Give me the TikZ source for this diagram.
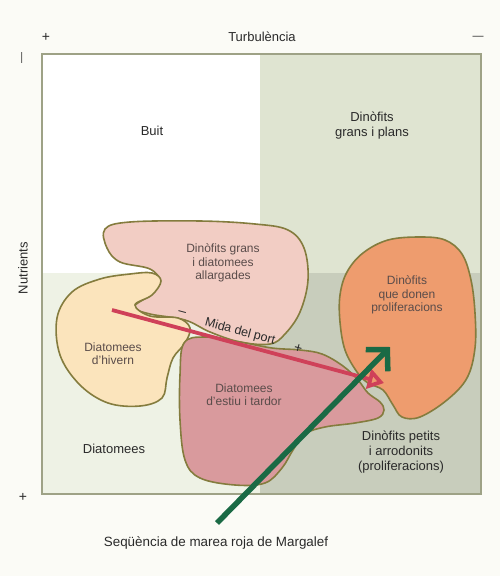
\documentclass[tikz,border=0pt]{standalone}
\usepackage{fontspec}
\setmainfont{Liberation Sans}
\usetikzlibrary{arrows.meta}
\definecolor{bgc}{HTML}{FBFBF6}
\definecolor{qtr}{HTML}{DFE4D1}
\definecolor{qbl}{HTML}{EEF2E5}
\definecolor{qbr}{HTML}{C8CDBC}
\definecolor{framec}{HTML}{9EA286}
\definecolor{blobline}{HTML}{847C3E}
\definecolor{lpink}{HTML}{F2CDC4}
\definecolor{yell}{HTML}{FBE4BC}
\definecolor{dpink}{HTML}{D99A9D}
\definecolor{orng}{HTML}{EE9C6E}
\definecolor{redarr}{HTML}{CF4159}
\definecolor{grnarr}{HTML}{1A6A45}
\definecolor{txt}{HTML}{2A2A2A}
\definecolor{txtb}{HTML}{5A4C4A}
\begin{document}
\begin{tikzpicture}[x=1pt,y=-1pt,
  blob/.style={draw=blobline, line width=1.6pt},
  lbl/.style={font=\fontsize{13}{15}\selectfont, text=txt, align=center, inner sep=0pt},
  blbl/.style={font=\fontsize{12}{13.4}\selectfont, text=txtb, align=center, inner sep=0pt},
  sgn/.style={font=\fontsize{14}{16}\selectfont, text=txt, inner sep=0pt}]
\useasboundingbox (0,0) rectangle (500,576);
\fill[bgc] (0,0) rectangle (500,576);
% quadrants
\fill[white] (42,54) rectangle (260,273);
\fill[qtr] (260,54) rectangle (481,273);
\fill[qbl] (42,273) rectangle (260,494);
\fill[qbr] (260,273) rectangle (481,494);
\draw[framec, line width=1.5pt] (42,54) rectangle (481,494);
% axis labels
\node[sgn] (tplus) at (46,37) {+};
\node[lbl] (turb) at (262,37) {Turbulència};
\node[sgn, font=\fontsize{11}{13}\selectfont] (tminus) at (478,38) {—};
\node[sgn, rotate=90, font=\fontsize{11}{13}\selectfont] (nminus) at (23,58) {—};
\node[lbl, rotate=90] (nutr) at (23,268) {Nutrients};
\node[sgn] (nplus) at (23,497) {+};
% quadrant labels
\node[lbl] (buit) at (152,131) {Buit};
\node[lbl] (dgp) at (372,126) {Dinòfits\\grans i plans};
\node[lbl] (diat) at (114,449) {Diatomees};
\node[lbl] (dpa) at (401,452) {Dinòfits petits\\i arrodonits\\(proliferacions)};
% blobs
\path[blob, fill=lpink] plot[smooth cycle, tension=0.6] coordinates {(105,229) (130,222) (200,221) (255,224) (288,230) (304,248) (308,280) (300,312) (285,334) (270,344) (240,342) (210,332) (185,320) (150,314) (134,307) (150,295) (160,282) (150,269) (120,262) (107,248)};
\path[blob, fill=yell] plot[smooth cycle, tension=0.6] coordinates {(57,318) (72,292) (100,279) (130,274) (152,273) (161,281) (152,295) (135,305) (150,316) (178,318) (190,328) (185,343) (173,358) (167,378) (162,398) (140,406) (108,403) (80,385) (60,355)};
\path[blob, fill=dpink] plot[smooth cycle, tension=0.6] coordinates {(184,343) (205,337) (240,342) (272,348) (300,350) (322,354) (343,366) (358,380) (368,393) (380,402) (384,410) (378,418) (355,423) (325,427) (305,434) (293,450) (282,468) (265,483) (235,485) (200,478) (185,460) (180,420) (180,375)};
\path[blob, fill=orng] plot[smooth cycle, tension=0.6] coordinates {(420,237) (445,240) (462,254) (471,280) (475,313) (475,348) (467,378) (447,400) (420,417) (402,417) (393,405) (383,390) (368,383) (357,372) (345,350) (340,322) (340,295) (347,272) (363,253) (388,240)};
% blob labels
\node[blbl] (dgd) at (223,263) {Dinòfits grans\\i diatomees\\allargades};
\node[blbl] (dhiv) at (113,354) {Diatomees\\d'hivern};
\node[blbl] (dest) at (244,395) {Diatomees\\d'estiu i tardor};
\node[blbl] (dprol) at (407,295) {Dinòfits\\que donen\\proliferacions};
% red arrow
\coordinate (rs) at (112,310);
\coordinate (re) at (384,383);
\draw[redarr, line width=3.8pt, -{Triangle[open,length=16pt,width=20pt]}] (rs) -- (re);
\node[font=\fontsize{12.5}{14}\selectfont, text=txt, rotate=-15, inner sep=0pt] (mida) at (240,332) {Mida del port};
\node[sgn, rotate=-15] (mminus) at (182,314) {–};
\node[sgn, rotate=-15] (mplus) at (298,349) {+};
% green arrow
\coordinate (gs) at (217,523);
\coordinate (ge) at (390,347);
\draw[grnarr, line width=5.5pt, -{Straight Barb[length=15pt,width=31pt]}] (gs) -- (ge);
\node[lbl, font=\fontsize{13.4}{15}\selectfont] (seq) at (216,543) {Seqüència de marea roja de Margalef};
\end{tikzpicture}
\end{document}
